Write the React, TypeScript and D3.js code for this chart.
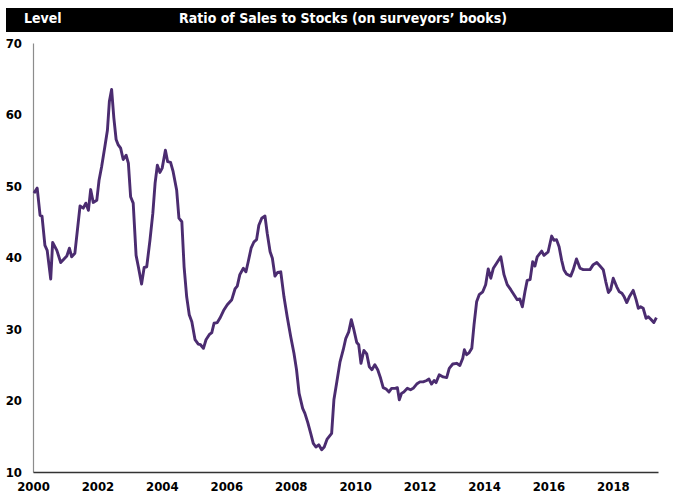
import { useRef, useEffect } from 'react';
import * as d3 from 'd3';

// sample dates (decimal years) and ratio values
const dates: number[] = [
    2000.03, 2000.13, 2000.22, 2000.28, 2000.37, 2000.44, 2000.55, 2000.61, 2000.74, 2000.86,
    2001.05, 2001.13, 2001.20, 2001.30, 2001.46, 2001.56, 2001.64, 2001.72, 2001.79, 2001.87,
    2001.98, 2002.05, 2002.13, 2002.23, 2002.31, 2002.37, 2002.44, 2002.51, 2002.58, 2002.64,
    2002.72, 2002.80, 2002.89, 2002.96, 2003.03, 2003.11, 2003.20, 2003.27, 2003.37, 2003.45,
    2003.53, 2003.63, 2003.72, 2003.79, 2003.86, 2003.94, 2004.01, 2004.11, 2004.18, 2004.27,
    2004.35, 2004.46, 2004.53, 2004.62, 2004.69, 2004.77, 2004.85, 2004.93, 2005.03, 2005.13,
    2005.20, 2005.29, 2005.37, 2005.47, 2005.55, 2005.62, 2005.72, 2005.80, 2005.93, 2006.03,
    2006.17, 2006.27, 2006.34, 2006.42, 2006.53, 2006.61, 2006.68, 2006.77, 2006.86, 2006.94,
    2007.01, 2007.10, 2007.20, 2007.27, 2007.36, 2007.43, 2007.51, 2007.59, 2007.69, 2007.79,
    2007.89, 2008.00, 2008.10, 2008.18, 2008.26, 2008.37, 2008.44, 2008.53, 2008.62, 2008.70,
    2008.78, 2008.87, 2008.96, 2009.04, 2009.13, 2009.27, 2009.34, 2009.43, 2009.53, 2009.63,
    2009.71, 2009.80, 2009.88, 2009.96, 2010.05, 2010.11, 2010.18, 2010.27, 2010.36, 2010.44,
    2010.52, 2010.61, 2010.70, 2010.79, 2010.87, 2010.96, 2011.05, 2011.13, 2011.24, 2011.31,
    2011.37, 2011.44, 2011.51, 2011.62, 2011.72, 2011.80, 2011.91, 2012.01, 2012.11, 2012.22,
    2012.29, 2012.37, 2012.45, 2012.51, 2012.61, 2012.73, 2012.84, 2012.92, 2013.03, 2013.15,
    2013.25, 2013.34, 2013.39, 2013.46, 2013.54, 2013.62, 2013.69, 2013.77, 2013.85, 2013.96,
    2014.05, 2014.13, 2014.21, 2014.29, 2014.39, 2014.52, 2014.62, 2014.72, 2014.83, 2014.93,
    2015.03, 2015.11, 2015.19, 2015.27, 2015.34, 2015.43, 2015.51, 2015.58, 2015.65, 2015.79,
    2015.86, 2015.99, 2016.10, 2016.17, 2016.25, 2016.33, 2016.41, 2016.48, 2016.56, 2016.69,
    2016.77, 2016.87, 2016.98, 2017.08, 2017.20, 2017.29, 2017.39, 2017.50, 2017.60, 2017.70,
    2017.78, 2017.86, 2017.93, 2018.01, 2018.12, 2018.20, 2018.28, 2018.35, 2018.43, 2018.51,
    2018.63, 2018.72, 2018.79, 2018.86, 2018.94, 2019.03, 2019.10, 2019.17, 2019.27, 2019.35,
];

const ratio: number[] = [
    49.0, 49.7, 45.9, 45.8, 41.7, 41.0, 37.0, 42.1, 41.0, 39.3,
    40.2, 41.3, 40.1, 40.6, 47.2, 46.9, 47.6, 46.6, 49.5, 47.7,
    48.0, 50.8, 52.7, 55.5, 57.8, 61.8, 63.5, 59.5, 56.5, 55.8,
    55.3, 53.7, 54.3, 53.2, 48.5, 47.6, 40.3, 38.7, 36.3, 38.6,
    38.7, 42.4, 46.2, 50.4, 52.9, 51.9, 52.5, 55.0, 53.4, 53.3,
    52.0, 49.4, 45.5, 45.0, 38.7, 34.5, 32.0, 31.0, 28.5, 27.9,
    27.8, 27.3, 28.5, 29.2, 29.5, 30.8, 30.9, 31.5, 32.7, 33.4,
    34.1, 35.6, 36.0, 37.6, 38.5, 38.0, 39.4, 41.3, 42.2, 42.5,
    44.5, 45.5, 45.8, 43.4, 40.8, 39.9, 37.4, 37.9, 38.0, 34.5,
    31.7, 28.9, 26.6, 24.3, 21.0, 18.9, 18.2, 16.9, 15.4, 14.0,
    13.5, 13.8, 13.1, 13.5, 14.6, 15.4, 20.1, 22.6, 25.4, 27.1,
    28.7, 29.6, 31.3, 29.9, 28.1, 27.8, 25.2, 27.0, 26.5, 24.7,
    24.3, 25.0, 24.3, 23.1, 21.8, 21.6, 21.2, 21.7, 21.7, 21.8,
    20.1, 21.0, 21.2, 21.7, 21.5, 21.7, 22.3, 22.6, 22.6, 22.8,
    23.0, 22.3, 22.8, 22.5, 23.6, 23.3, 23.2, 24.5, 25.1, 25.2,
    24.9, 25.9, 27.1, 26.4, 26.7, 27.3, 30.6, 33.8, 34.8, 35.2,
    36.2, 38.4, 37.1, 38.5, 39.2, 40.1, 37.6, 36.2, 35.5, 34.8,
    34.1, 34.2, 33.1, 35.2, 36.8, 36.9, 39.4, 38.8, 40.1, 40.9,
    40.3, 40.8, 43.0, 42.4, 42.5, 41.5, 39.6, 38.3, 37.7, 37.4,
    38.3, 39.8, 38.5, 38.3, 38.3, 38.3, 39.0, 39.3, 38.8, 38.3,
    36.6, 35.1, 35.5, 37.1, 35.9, 35.2, 35.0, 34.5, 33.7, 34.5,
    35.4, 34.1, 32.9, 33.1, 32.9, 31.5, 31.7, 31.4, 30.9, 31.6,
];

const yTicks: number[] = [10, 20, 30, 40, 50, 60, 70];
const xTicks: number[] = [2000, 2002, 2004, 2006, 2008, 2010, 2012, 2014, 2016, 2018];

const title = 'Ratio of Sales to Stocks (on surveyors\u2019 books)';
const unitLabel = 'Level';

const FONT = '"Liberation Sans Narrow", "Arial Narrow", "DejaVu Sans Condensed", sans-serif';

const App: React.FC = () => {
    const svgRef = useRef<SVGSVGElement>(null);

    useEffect(() => {
        document.body.style.margin = '0';
        if (!svgRef.current) return;

        const svg = d3.select(svgRef.current);
        svg.selectAll('*').remove();

        const width = 673;
        const height = 497;
        const margin = { top: 43, right: 15, bottom: 25, left: 33 };

        svg.append('rect').attr('width', width).attr('height', height).attr('fill', '#fff');

        // header band
        svg.append('rect')
            .attr('x', 6)
            .attr('y', 8)
            .attr('width', width - 6)
            .attr('height', 24)
            .attr('fill', '#000');

        svg.append('text')
            .attr('x', 24)
            .attr('y', 23)
            .attr('fill', '#fff')
            .style('font-family', FONT)
            .style('font-weight', 'bold')
            .style('font-size', '14px')
            .text(unitLabel);

        svg.append('text')
            .attr('x', 343)
            .attr('y', 23)
            .attr('text-anchor', 'middle')
            .attr('fill', '#fff')
            .style('font-family', FONT)
            .style('font-weight', 'bold')
            .style('font-size', '14px')
            .text(title);

        const x = d3.scaleLinear()
            .domain([2000, 2019.4])
            .range([margin.left, width - margin.right]);

        const y = d3.scaleLinear()
            .domain([10, 70])
            .range([height - margin.bottom, margin.top]);

        // y axis
        const yAxis = svg.append('g')
            .attr('transform', `translate(${margin.left},0)`)
            .call(d3.axisLeft(y).tickValues(yTicks).tickSize(0).tickPadding(11));
        yAxis.select('.domain').attr('stroke', '#8c8c8c').attr('stroke-width', 1.2);
        yAxis.selectAll('text')
            .style('font-family', FONT)
            .style('font-weight', 'bold')
            .style('font-size', '13px')
            .attr('fill', '#000');

        // x axis
        const xAxis = svg.append('g')
            .attr('transform', `translate(0,${height - margin.bottom})`)
            .call(d3.axisBottom(x).tickValues(xTicks).tickFormat(d3.format('d')).tickSize(0).tickPadding(10));
        xAxis.select('.domain').attr('stroke', '#333').attr('stroke-width', 1.5);
        xAxis.selectAll('text')
            .style('font-family', FONT)
            .style('font-weight', 'bold')
            .style('font-size', '13px')
            .attr('fill', '#000');

        const line = d3.line<number>()
            .x((_, i) => x(dates[i]))
            .y(d => y(d));

        svg.append('path')
            .datum(ratio)
            .attr('fill', 'none')
            .attr('stroke', '#4b2c70')
            .attr('stroke-width', 2.9)
            .attr('stroke-linejoin', 'round')
            .attr('d', line);
    }, []);

    return (
        <div>
            <svg ref={svgRef} width={673} height={497} style={{ display: 'block' }}></svg>
        </div>
    );
};

export default App;
